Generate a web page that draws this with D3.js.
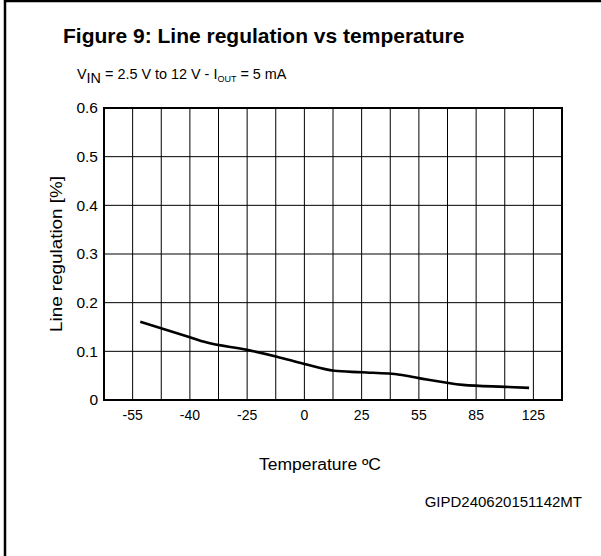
<!DOCTYPE html>
<html>
<head>
<meta charset="utf-8">
<script src="https://cdn.jsdelivr.net/npm/d3@7/dist/d3.min.js"></script>
<style>
  html, body { margin: 0; padding: 0; background: #fff; }
  svg { display: block; font-family: "Liberation Sans", Arial, sans-serif; }
</style>
</head>
<body>
<svg id="chart" width="601" height="556"></svg>
<script>
// Temperature categories shown on the x axis (evenly spaced, not linear)
const categories = ["-55", "-40", "-25", "0", "25", "55", "85", "125"];
const categoryTemps = [-55, -40, -25, 0, 25, 55, 85, 125];
// Y axis ticks, line regulation in %
const yTicks = [0, 0.1, 0.2, 0.3, 0.4, 0.5, 0.6];
// Measured curve: temperature (°C) and line regulation (%)
const seriesTemp  = [-53, -40, -36, -25, -12, 0, 13, 25, 45, 55, 78, 105, 122];
const seriesValue = [0.161, 0.129, 0.119, 0.103, 0.089, 0.074, 0.060, 0.057, 0.052, 0.045, 0.031, 0.027, 0.025];

const svg = d3.select("#chart");
const plot = { left: 104, right: 562, top: 108, bottom: 400 };

// Outer figure frame (top and left edges)
svg.append("line").attr("x1", 5).attr("y1", 0).attr("x2", 5).attr("y2", 556)
  .attr("stroke", "#000").attr("stroke-width", 2.5);
svg.append("line").attr("x1", 4).attr("y1", 1).attr("x2", 601).attr("y2", 1)
  .attr("stroke", "#000").attr("stroke-width", 2.5);

// Title and conditions
svg.append("text").attr("x", 63).attr("y", 43)
  .attr("font-size", 21).attr("font-weight", "bold").attr("fill", "#000")
  .text("Figure 9: Line regulation vs temperature");

const sub = svg.append("text").attr("x", 77).attr("y", 79)
  .attr("font-size", 14.4).attr("fill", "#000");
sub.append("tspan").text("V");
sub.append("tspan").attr("dy", 4).text("IN");
sub.append("tspan").attr("dy", -4).text(" = 2.5 V to 12 V - I");
sub.append("tspan").attr("dy", 3).attr("font-size", 9).text("OUT");
sub.append("tspan").attr("dy", -3).text(" = 5 mA");

// Scales
const xBand = d3.scaleBand().domain(categories).range([plot.left, plot.right]).padding(0);
const bw = xBand.bandwidth();
const xTemp = d3.scaleLinear()
  .domain(categoryTemps)
  .range(categories.map(c => xBand(c) + bw / 2));
const y = d3.scaleLinear().domain([0, 0.6]).range([plot.bottom, plot.top]);

// Grid
const grid = svg.append("g").attr("stroke", "#000").attr("stroke-width", 1);
const vLines = categories.flatMap(c => [xBand(c), xBand(c) + bw / 2]).slice(1);
grid.selectAll("line.v").data(vLines).join("line").attr("class", "v")
  .attr("x1", d => d).attr("x2", d => d)
  .attr("y1", plot.top).attr("y2", plot.bottom);
grid.selectAll("line.h").data(yTicks.slice(1, -1)).join("line").attr("class", "h")
  .attr("x1", plot.left).attr("x2", plot.right)
  .attr("y1", d => y(d)).attr("y2", d => y(d));

// Plot frame
svg.append("rect")
  .attr("x", plot.left).attr("y", plot.top)
  .attr("width", plot.right - plot.left).attr("height", plot.bottom - plot.top)
  .attr("fill", "none").attr("stroke", "#000").attr("stroke-width", 2);

// Axes
const yAxis = svg.append("g").attr("transform", `translate(${plot.left},0)`)
  .call(d3.axisLeft(y).tickValues(yTicks).tickSize(0).tickPadding(6)
    .tickFormat(d => d === 0 ? "0" : d3.format(".1f")(d)));
yAxis.select(".domain").remove();
yAxis.selectAll("text").attr("font-size", 15.5).attr("fill", "#000")
  .attr("font-family", "'Liberation Sans', Arial, sans-serif");

const xAxis = svg.append("g").attr("transform", `translate(0,${plot.bottom})`)
  .call(d3.axisBottom(xBand).tickSize(0).tickPadding(10));
xAxis.select(".domain").remove();
xAxis.selectAll("text").attr("font-size", 14).attr("fill", "#000")
  .attr("font-family", "'Liberation Sans', Arial, sans-serif");

// Axis titles
svg.append("text")
  .attr("transform", `translate(62,${(plot.top + plot.bottom) / 2}) rotate(-90)`)
  .attr("text-anchor", "middle").attr("font-size", 16).attr("fill", "#000")
  .attr("textLength", 156).attr("lengthAdjust", "spacingAndGlyphs")
  .text("Line regulation [%]");
svg.append("text").attr("x", 320).attr("y", 470)
  .attr("text-anchor", "middle").attr("font-size", 16).attr("fill", "#000")
  .attr("textLength", 122).attr("lengthAdjust", "spacingAndGlyphs")
  .text("Temperature ºC");

// Document code
svg.append("text").attr("x", 582).attr("y", 507)
  .attr("text-anchor", "end").attr("font-size", 15).attr("fill", "#000")
  .text("GIPD240620151142MT");

// Curve
const data = seriesTemp.map((t, i) => ({ t, v: seriesValue[i] }));
svg.append("path").datum(data)
  .attr("fill", "none").attr("stroke", "#000").attr("stroke-width", 2.6)
  .attr("stroke-linejoin", "round")
  .attr("d", d3.line().x(d => xTemp(d.t)).y(d => y(d.v)).curve(d3.curveMonotoneX));
</script>
</body>
</html>
